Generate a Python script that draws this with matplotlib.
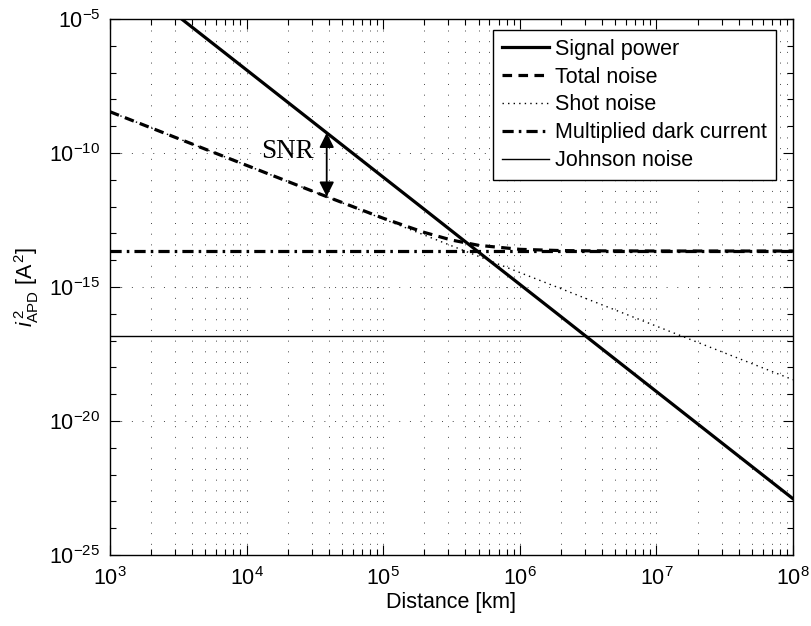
import matplotlib
matplotlib.use("Agg")
import matplotlib.pyplot as plt
import matplotlib.ticker as mticker
import numpy as np

# values (log-log, straight power laws)
distance_km = [1e3, 3.16e3, 1e4, 3.16e4, 1e5, 2e5, 3.16e5, 5e5,
               1e6, 2e6, 3.16e6, 1e7, 3.16e7, 1e8]
signal_power = [1.26e-3, 1.26e-5, 1.26e-7, 1.26e-9, 1.26e-11, 7.9e-13, 1.26e-13, 2.0e-14,
                1.26e-15, 7.9e-17, 1.26e-17, 1.26e-19, 1.26e-21, 1.26e-23]
shot_noise = [3.47e-9, 3.47e-10, 3.47e-11, 3.47e-12, 3.47e-13, 8.7e-14, 3.47e-14, 1.39e-14,
              3.47e-15, 8.7e-16, 3.47e-16, 3.47e-17, 3.47e-18, 3.47e-19]
dark_current = [2.2e-14] * len(distance_km)
johnson_noise = [1.5e-17] * len(distance_km)
total_noise = list(np.array(shot_noise) + np.array(dark_current) + np.array(johnson_noise))

snr_distance = 3.86e4

plt.rcParams['font.family'] = ['Liberation Sans', 'DejaVu Sans']
plt.rcParams['mathtext.fontset'] = 'custom'
plt.rcParams['mathtext.rm'] = 'Liberation Sans'
plt.rcParams['mathtext.it'] = 'Liberation Sans:italic'
plt.rcParams['mathtext.bf'] = 'Liberation Sans:bold'

fig = plt.figure(figsize=(8.11, 6.26), dpi=100)
ax = fig.add_axes([0.1356, 0.1134, 0.8422, 0.8562])

ax.loglog(distance_km, signal_power, color='k', lw=2.3, label='Signal power')
ax.loglog(distance_km, total_noise, color='k', lw=2.3, dashes=(3, 2), label='Total noise')
ax.loglog(distance_km, shot_noise, color='k', lw=1.0, dashes=(1, 3), label='Shot noise')
ax.loglog(distance_km, dark_current, color='k', lw=2.3, dashes=(3.5, 1.6, 0.8, 1.6),
          label='Multiplied dark current')
ax.loglog(distance_km, johnson_noise, color='k', lw=1.0, label='Johnson noise')

ax.set_xlim(1e3, 1e8)
ax.set_ylim(1e-25, 1e-5)

ax.yaxis.set_major_locator(mticker.FixedLocator([1e-25, 1e-20, 1e-15, 1e-10, 1e-5]))
ax.yaxis.set_minor_locator(mticker.LogLocator(base=10, subs=(1.0,), numticks=40))
ax.yaxis.set_minor_formatter(mticker.NullFormatter())
ax.xaxis.set_major_locator(mticker.LogLocator(base=10, numticks=10))
ax.xaxis.set_minor_locator(mticker.LogLocator(base=10, subs=np.arange(2, 10), numticks=10))
ax.xaxis.set_minor_formatter(mticker.NullFormatter())

ax.grid(which='both', axis='x', color='#444444', lw=0.7, linestyle=(0, (1, 10)))
ax.grid(which='major', axis='y', color='#444444', lw=0.7, linestyle=(0, (1, 10)))

ax.tick_params(which='both', direction='in', top=True, right=True, labelsize=15.5, width=0.8)
ax.tick_params(which='major', length=7)
ax.tick_params(axis='x', which='major', pad=9)
ax.tick_params(axis='y', which='major', pad=7)
ax.tick_params(which='minor', length=4)
for s in ax.spines.values():
    s.set_linewidth(1.0)

ax.set_xlabel('Distance [km]', fontsize=15.5, labelpad=1)
ax.set_ylabel(r'$i^{\,2}_{\mathrm{APD}}\ [\mathrm{A}^{\,2}]$', fontsize=15.5, labelpad=6)

# SNR marker between signal and total noise
sig_at = np.interp(np.log10(snr_distance), np.log10(distance_km), np.log10(signal_power))
tot_at = np.interp(np.log10(snr_distance), np.log10(distance_km), np.log10(total_noise))
ax.annotate('', xy=(snr_distance, 10 ** sig_at), xytext=(snr_distance, 10 ** tot_at),
            arrowprops=dict(arrowstyle='<|-|>', color='k', lw=1.3, mutation_scale=22,
                            shrinkA=0, shrinkB=0))
ax.text(2.0e4, 1.1e-10, 'SNR', family='Liberation Serif', fontsize=19.5,
        ha='center', va='center')

leg = ax.legend(loc='upper right', bbox_to_anchor=(0.975, 0.9795), fontsize=15.5,
                fancybox=False, framealpha=1, edgecolor='k', borderaxespad=0,
                handlelength=2.2, handletextpad=0.3, labelspacing=0.32,
                borderpad=0.4)
leg.get_frame().set_linewidth(1.0)

fig.savefig('out.png', dpi=100)
